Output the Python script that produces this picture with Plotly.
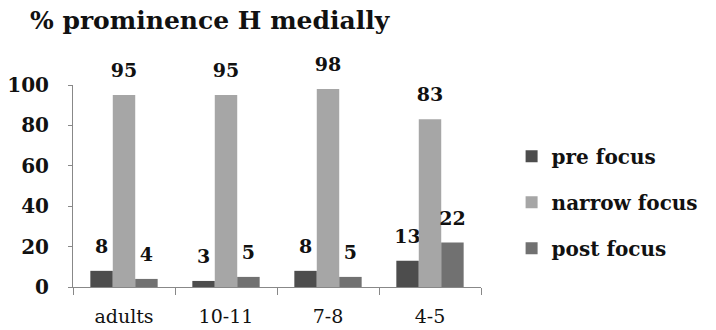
import plotly.graph_objects as go

categories = ["adults", "10-11", "7-8", "4-5"]
series_names = ["pre focus", "narrow focus", "post focus"]
pre_focus = [8, 3, 8, 13]
narrow_focus = [95, 95, 98, 83]
post_focus = [4, 5, 5, 22]
colors = ["#4d4d4d", "#a6a6a6", "#717171"]
y_ticks = [0, 20, 40, 60, 80, 100]

FONT = "DejaVu Serif"
fig = go.Figure()
for i, (name, vals) in enumerate(zip(series_names, [pre_focus, narrow_focus, post_focus])):
    fig.add_trace(go.Bar(
        x=categories, y=vals, name=name, legendgroup=name,
        marker=dict(color=colors[i], line=dict(width=0)),
        text=[f"<span style='font-size:19px'><b>{v}</b></span><br> " for v in vals],
        textposition="outside", cliponaxis=False, constraintext="none",
        textfont=dict(family=FONT, size=10, color="#111111"),
    ))

fig.update_layout(
    width=716, height=330,
    margin=dict(l=73, r=219, t=85, b=43),
    paper_bgcolor="white", plot_bgcolor="white",
    barmode="group", bargap=0.34, bargroupgap=0,
    title=dict(text="<b>% prominence H medially</b>", x=30/716, xanchor="left",
               xref="container", yref="container", y=0.964, yanchor="top",
               font=dict(family=FONT, size=25, color="#111111")),
    legend=dict(x=1.075, xanchor="left", y=0.42, yanchor="middle",
                font=dict(family=FONT, size=20, color="#111111", weight="bold"),
                tracegroupgap=17, itemwidth=30),
    showlegend=True,
)
fig.update_xaxes(type="category", automargin=False, showline=True, linecolor="#888888", linewidth=1,
                 ticks="outside", tickson="boundaries", ticklen=7, tickcolor="#888888",
                 tickfont=dict(family=FONT, size=19, color="#111111"),
                 ticklabelstandoff=12)
fig.update_yaxes(range=[0, 100], tickvals=y_ticks, showgrid=False, zeroline=False, automargin=False,
                 showline=True, linecolor="#888888", linewidth=1,
                 ticks="outside", ticklen=4, tickcolor="#888888",
                 tickfont=dict(family=FONT, size=20, color="#111111", weight="bold"),
                 ticklabelstandoff=15)
fig.write_html("out.html", config={"displayModeBar": False},
               post_script="document.body.style.margin='0';document.body.style.overflow='hidden';")
